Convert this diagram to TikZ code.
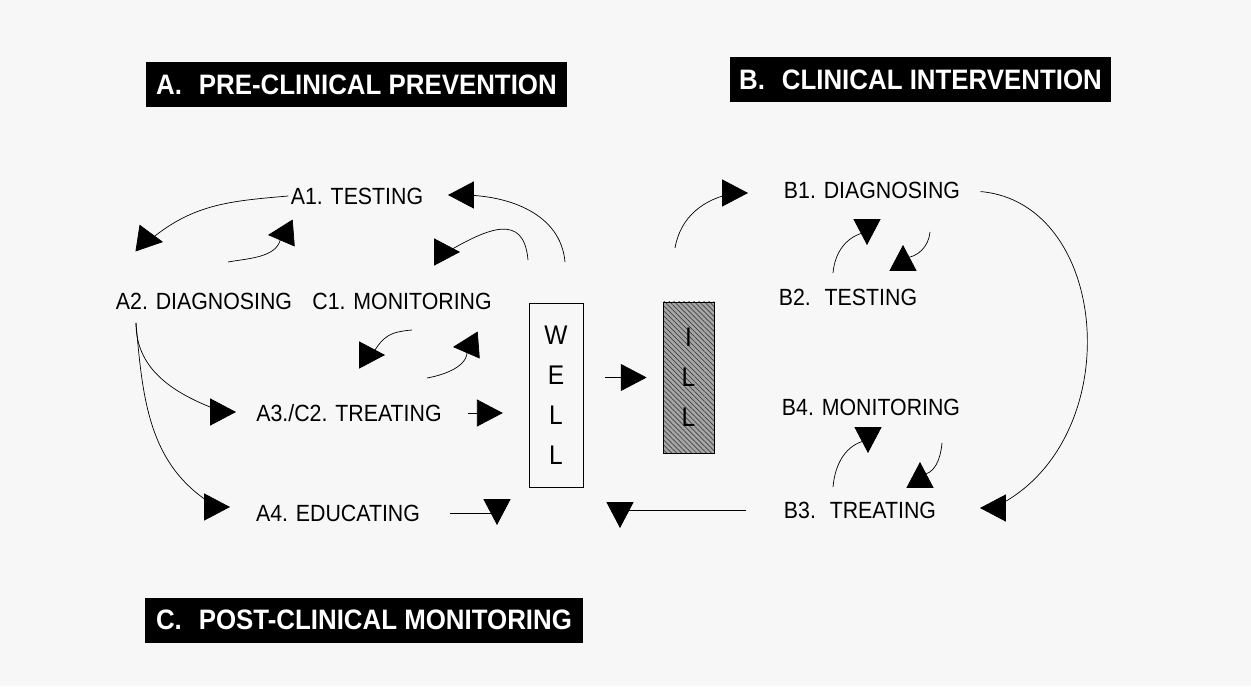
\documentclass[tikz,border=0pt]{standalone}
\usepackage{fontspec}
\usetikzlibrary{arrows.meta,patterns.meta,positioning}
\newfontfamily\lblfont{Liberation Sans}[FakeStretch=0.91]
\newfontfamily\hdrfont{Liberation Sans}[FakeStretch=0.92]

\begin{document}
\begin{tikzpicture}
	[x=0.03cm,y=0.03cm,
	lbl/.style={inner sep=2pt,text=black,font=\lblfont\fontsize{20}{24}\selectfont},
	hdr/.style={fill=black,text=white,inner sep=0pt,minimum height=1.35cm,
		font=\hdrfont\bfseries\fontsize{24}{28}\selectfont},
	col/.style={draw,thin,inner sep=0pt,align=center,font=\lblfont\fontsize{23}{34}\selectfont},
	arr/.style={-{Triangle[length=22pt,width=23pt]},line width=0.6pt,line join=round}]

	\useasboundingbox (0,0) rectangle (1251,686);
	\fill[black!3] (0,0) rectangle (1251,686);

	% section headers
	\node[hdr,minimum width=12.63cm] (prev) at (356.5,601.5) {A.\hspace{0.6em}PRE-CLINICAL PREVENTION};
	\node[hdr,minimum width=11.43cm] (interv) at (920.5,606) {B.\hspace{0.6em}CLINICAL INTERVENTION};
	\node[hdr,minimum width=13.14cm] (post) at (364,66) {C.\hspace{0.6em}POST-CLINICAL MONITORING};

	\node[lbl] (a1) at (357,490) {A1. TESTING};
	\node[lbl] (a2) at (204,385) {A2. DIAGNOSING};
	\node[lbl] (c1) at (402,385) {C1. MONITORING};
	\node[lbl] (a3) at (349,273) {A3./C2. TREATING};
	\node[lbl] (a4) at (338,173) {A4. EDUCATING};
	\node[lbl] (b1) at (872,496) {B1. DIAGNOSING};
	\node[lbl] (b2) at (848,389) {B2.~ TESTING};
	\node[lbl] (b4) at (871,279) {B4. MONITORING};
	\node[lbl] (b3) at (860,176) {B3.~ TREATING};

	\node[col,minimum width=1.62cm,minimum height=5.52cm] (well) at (556,291) {W\\E\\L\\L};
	\node[col,minimum width=1.53cm,minimum height=4.53cm,preaction={fill=black!35},
		pattern={Lines[angle=-45,distance=3pt,line width=0.6pt]},pattern color=black!75]
		(ill) at (688.5,308.5) {I\\L\\L};

	% loose ends of the cycles
	\coordinate (sA2) at (136,363);
	\coordinate (sA1) at (228,424);
	\coordinate (sW1) at (565,424);
	\coordinate (sW2) at (528,426);
	\coordinate (sC1a) at (412,356);
	\coordinate (sC1b) at (427,308);
	\coordinate (sIll) at (675,438);
	\coordinate (sB2) at (833,413);
	\coordinate (sB1) at (930,454);
	\coordinate (sB3) at (833,199);
	\coordinate (sB4) at (942,243);
	% arrow points
	\coordinate (tA2) at (163,444);
	\coordinate (tA1) at (268,451);
	\coordinate (tW1) at (448,491);
	\coordinate (tW2) at (460,434);
	\coordinate (tC1a) at (385,331);
	\coordinate (tC1b) at (453,339);
	\coordinate (tA3) at (236,274);
	\coordinate (tA4) at (230,179);
	\coordinate (tB1a) at (748,493);
	\coordinate (tB1b) at (867,441);
	\coordinate (tB2) at (903,441);
	\coordinate (tB3a) at (980,178);
	\coordinate (tB4) at (868,233);
	\coordinate (tB3b) at (920,224);
	\coordinate (dnL) at (497,161);
	\coordinate (dnR) at (620,158);

	\draw[arr] (a1.west) to[out=185,in=40] ([shift={(-13,2)}]tA2) -- (tA2);
	\draw[arr] (sA1) to[out=10,in=-90] ([shift={(13,1)}]tA1) -- (tA1);
	\draw[arr] (sW1) to[out=95,in=0] ([shift={(13,0)}]tW1) -- (tW1);
	\draw[arr] (sW2) to[out=95,in=30,looseness=1.5] ([shift={(-13,0)}]tW2) -- (tW2);
	\draw[arr] (sC1a) to[out=185,in=60,looseness=1.2] ([shift={(-13,0)}]tC1a) -- (tC1a);
	\draw[arr] (sC1b) to[out=10,in=-70] ([shift={(13,1)}]tC1b) -- (tC1b);
	\draw[arr] (sA2) to[out=-90,in=160] ([shift={(-13,0)}]tA3) -- (tA3);
	\draw[arr] (sA2) to[out=-85,in=150] ([shift={(-13,0)}]tA4) -- (tA4);
	\draw[arr,shorten <=0.72cm,shorten >=0.78cm] (a3.east) -- (a3.east -| well.west);
	\draw[arr,shorten <=0.66cm,shorten >=0.48cm] (well.east |- ill.west) -- (ill.west);
	\draw[arr,shorten <=0.81cm] (a4.east) -| (dnL);
	\draw[arr,shorten <=1.05cm] (b3.west) -| (dnR);

	\draw[arr] (sIll) to[out=80,in=190] ([shift={(-13,0)}]tB1a) -- (tB1a);
	\draw[arr] (sB2) to[out=85,in=190] ([shift={(0,13)}]tB1b) -- (tB1b);
	\draw[arr] (sB1) to[out=-95,in=0] ([shift={(0,-13)}]tB2) -- (tB2);
	\draw[arr,shorten <=0.54cm] (b1.east) to[out=-5,in=25,looseness=1.2] ([shift={(13,0)}]tB3a) -- (tB3a);
	\draw[arr] (sB3) to[out=85,in=190] ([shift={(0,13)}]tB4) -- (tB4);
	\draw[arr] (sB4) to[out=-95,in=0] ([shift={(0,-13)}]tB3b) -- (tB3b);
\end{tikzpicture}
\end{document}
